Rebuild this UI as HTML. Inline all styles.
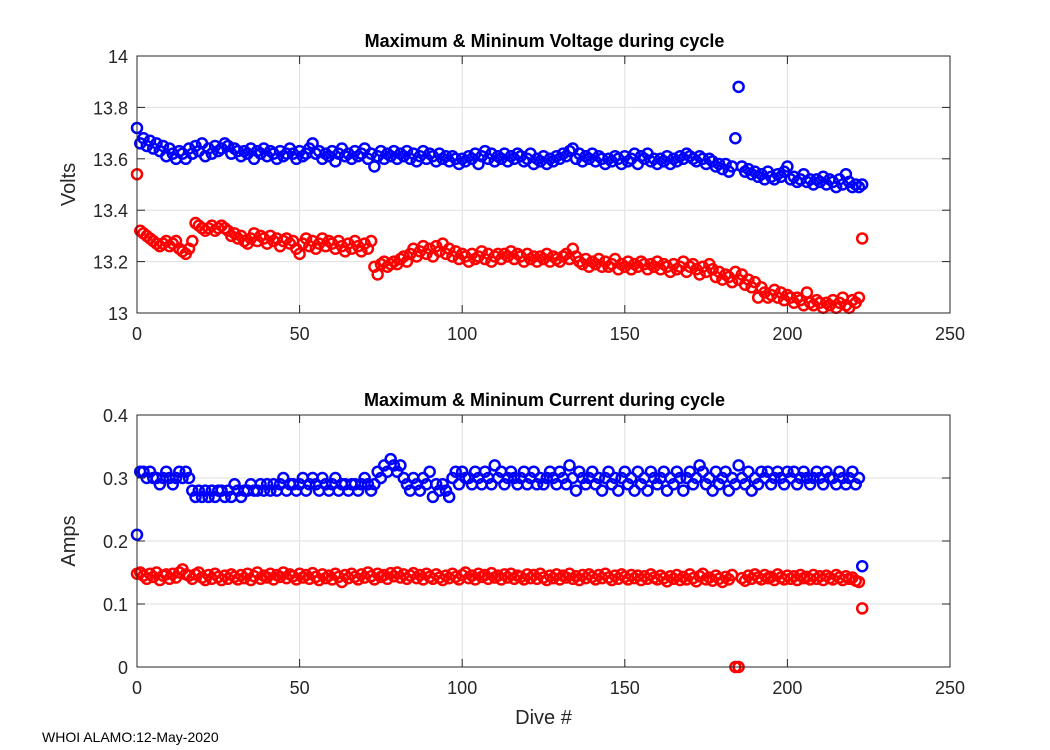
<!DOCTYPE html>
<html><head><meta charset="utf-8"><style>
html,body{margin:0;padding:0;background:#fff;}
svg{display:block;font-family:"Liberation Sans",Arial,sans-serif;}
</style></head><body>
<svg id="chart" width="1050" height="750" viewBox="0 0 1050 750">
<g id="top"></g>
<g id="bot"></g>
<text x="42" y="742" font-size="14">WHOI ALAMO:12-May-2020</text>
</svg>
<script>
const vMax=[13.72,13.66,13.68,13.65,13.67,13.64,13.66,13.63,13.65,13.61,13.64,13.62,13.60,13.63,13.62,13.60,
13.64,13.62,13.65,13.63,13.66,13.61,13.64,13.62,13.65,13.63,13.64,13.66,13.65,13.62,13.64,13.63,
13.61,13.63,13.62,13.64,13.60,13.63,13.62,13.64,13.61,13.63,13.62,13.60,13.63,13.61,13.62,13.64,
13.62,13.60,13.63,13.61,13.62,13.64,13.66,13.62,13.63,13.60,13.62,13.61,13.63,13.59,13.62,13.64,
13.61,13.62,13.60,13.63,13.61,13.62,13.64,13.60,13.62,13.57,13.61,13.63,13.60,13.62,13.61,13.63,
13.60,13.62,13.61,13.63,13.60,13.62,13.59,13.61,13.63,13.60,13.62,13.61,13.59,13.62,13.60,13.61,
13.59,13.61,13.60,13.58,13.60,13.59,13.61,13.60,13.62,13.58,13.61,13.63,13.60,13.62,13.59,13.61,
13.60,13.62,13.59,13.61,13.60,13.62,13.61,13.59,13.60,13.62,13.58,13.60,13.59,13.61,13.58,13.60,
13.59,13.61,13.60,13.62,13.61,13.63,13.64,13.60,13.62,13.59,13.61,13.60,13.62,13.59,13.61,13.60,
13.58,13.60,13.59,13.61,13.60,13.58,13.61,13.59,13.60,13.62,13.58,13.61,13.60,13.62,13.59,13.60,
13.58,13.60,13.59,13.61,13.58,13.60,13.59,13.61,13.60,13.62,13.61,13.60,13.59,13.61,13.60,13.58,
13.60,13.59,13.57,13.58,13.56,13.58,13.55,13.57,13.68,13.88,13.57,13.55,13.56,13.54,13.55,13.53,
13.54,13.52,13.55,13.53,13.52,13.54,13.53,13.55,13.57,13.52,13.53,13.51,13.52,13.54,13.51,13.52,
13.50,13.52,13.51,13.53,13.50,13.52,13.51,13.49,13.52,13.50,13.54,13.51,13.49,13.50,13.49,13.50];
const vMin=[13.54,13.32,13.31,13.30,13.29,13.28,13.27,13.26,13.27,13.28,13.26,13.27,13.28,13.25,13.24,13.23,
13.25,13.28,13.35,13.34,13.33,13.32,13.33,13.34,13.32,13.33,13.34,13.33,13.32,13.30,13.31,13.29,
13.30,13.28,13.27,13.29,13.31,13.28,13.30,13.29,13.27,13.30,13.28,13.29,13.26,13.28,13.29,13.27,
13.28,13.25,13.23,13.27,13.29,13.26,13.28,13.25,13.27,13.29,13.26,13.28,13.27,13.25,13.28,13.26,
13.24,13.27,13.25,13.28,13.26,13.24,13.27,13.25,13.28,13.18,13.15,13.19,13.20,13.18,13.19,13.20,
13.19,13.21,13.22,13.20,13.23,13.25,13.22,13.24,13.26,13.23,13.25,13.22,13.26,13.24,13.27,13.23,
13.25,13.22,13.24,13.21,13.23,13.22,13.20,13.23,13.21,13.22,13.24,13.21,13.23,13.20,13.22,13.23,
13.21,13.23,13.22,13.24,13.21,13.23,13.22,13.20,13.23,13.21,13.22,13.20,13.22,13.21,13.23,13.20,
13.22,13.21,13.20,13.22,13.23,13.21,13.25,13.22,13.20,13.19,13.21,13.18,13.20,13.19,13.21,13.18,
13.20,13.18,13.19,13.21,13.17,13.19,13.18,13.20,13.17,13.19,13.18,13.20,13.19,13.17,13.19,13.18,
13.20,13.17,13.19,13.18,13.16,13.19,13.17,13.18,13.20,13.16,13.18,13.19,13.17,13.15,13.18,13.16,
13.19,13.17,13.14,13.16,13.13,13.15,13.14,13.12,13.16,13.13,13.15,13.11,13.13,13.10,13.12,13.06,
13.10,13.08,13.06,13.07,13.09,13.06,13.08,13.05,13.07,13.06,13.04,13.06,13.05,13.03,13.08,13.04,
13.03,13.05,13.04,13.02,13.04,13.03,13.05,13.02,13.04,13.06,13.03,13.02,13.05,13.04,13.06,13.29];
const iMax=[0.21,0.31,0.31,0.30,0.31,0.30,0.30,0.29,0.30,0.31,0.30,0.29,0.30,0.31,0.30,0.31,
0.30,0.28,0.27,0.28,0.27,0.28,0.27,0.28,0.27,0.28,0.28,0.27,0.28,0.27,0.29,0.28,
0.27,0.28,0.28,0.29,0.28,0.28,0.29,0.28,0.29,0.28,0.29,0.28,0.29,0.30,0.28,0.29,
0.29,0.28,0.29,0.30,0.28,0.29,0.30,0.29,0.28,0.30,0.29,0.28,0.29,0.30,0.28,0.29,
0.29,0.28,0.29,0.29,0.28,0.29,0.30,0.29,0.28,0.29,0.31,0.30,0.32,0.31,0.33,0.32,
0.31,0.32,0.30,0.29,0.28,0.30,0.29,0.28,0.30,0.29,0.31,0.27,0.29,0.28,0.29,0.28,
0.27,0.30,0.31,0.29,0.31,0.30,0.30,0.29,0.31,0.30,0.29,0.31,0.30,0.29,0.32,0.30,
0.31,0.29,0.30,0.31,0.30,0.29,0.30,0.31,0.29,0.30,0.31,0.29,0.30,0.29,0.30,0.31,
0.30,0.29,0.31,0.30,0.29,0.32,0.30,0.28,0.31,0.30,0.29,0.30,0.31,0.29,0.30,0.28,
0.30,0.31,0.29,0.30,0.28,0.30,0.31,0.29,0.30,0.28,0.31,0.29,0.30,0.28,0.31,0.30,
0.29,0.30,0.31,0.28,0.30,0.29,0.31,0.30,0.28,0.30,0.31,0.29,0.30,0.32,0.31,0.29,
0.30,0.28,0.31,0.29,0.30,0.31,0.28,0.30,0.29,0.32,0.30,0.29,0.31,0.28,0.30,0.29,
0.31,0.30,0.31,0.29,0.30,0.31,0.30,0.29,0.31,0.30,0.31,0.29,0.30,0.31,0.30,0.29,
0.30,0.31,0.30,0.29,0.31,0.30,0.30,0.29,0.31,0.30,0.29,0.30,0.31,0.29,0.30,0.16];
const iMin=[0.148,0.150,0.145,0.140,0.148,0.143,0.150,0.138,0.145,0.147,0.140,0.148,0.142,0.150,0.155,0.147,
0.145,0.140,0.147,0.150,0.142,0.138,0.146,0.140,0.148,0.143,0.138,0.145,0.140,0.147,0.143,0.139,
0.146,0.141,0.148,0.138,0.144,0.150,0.140,0.145,0.142,0.148,0.139,0.146,0.143,0.150,0.141,0.147,
0.144,0.139,0.148,0.142,0.146,0.140,0.149,0.143,0.138,0.147,0.141,0.145,0.139,0.148,0.143,0.135,
0.146,0.141,0.148,0.143,0.139,0.147,0.142,0.150,0.144,0.139,0.148,0.143,0.146,0.140,0.149,0.144,
0.150,0.142,0.147,0.140,0.145,0.149,0.141,0.146,0.139,0.148,0.143,0.140,0.147,0.142,0.138,0.145,
0.141,0.148,0.143,0.139,0.146,0.150,0.141,0.145,0.139,0.148,0.143,0.146,0.140,0.149,0.142,0.145,
0.139,0.147,0.142,0.148,0.140,0.145,0.143,0.139,0.147,0.141,0.146,0.140,0.148,0.142,0.138,0.145,
0.141,0.147,0.139,0.145,0.142,0.148,0.140,0.144,0.138,0.146,0.141,0.147,0.143,0.139,0.146,0.141,
0.148,0.142,0.138,0.145,0.140,0.147,0.143,0.139,0.146,0.141,0.145,0.138,0.144,0.140,0.147,0.142,
0.139,0.145,0.141,0.136,0.144,0.140,0.146,0.138,0.143,0.139,0.147,0.141,0.136,0.144,0.148,0.139,
0.142,0.137,0.145,0.140,0.135,0.143,0.139,0.146,0.000,0.000,0.141,0.137,0.145,0.140,0.147,0.142,
0.139,0.146,0.141,0.143,0.138,0.147,0.142,0.139,0.145,0.140,0.144,0.138,0.146,0.141,0.143,0.139,
0.146,0.140,0.144,0.138,0.145,0.141,0.139,0.146,0.142,0.138,0.144,0.140,0.142,0.137,0.135,0.093];
const xTicks=[0,50,100,150,200,250];
const vTicks=[13,13.2,13.4,13.6,13.8,14];
const vTickLabels=["13","13.2","13.4","13.6","13.8","14"];
const iTicks=[0,0.1,0.2,0.3,0.4];
const iTickLabels=["0","0.1","0.2","0.3","0.4"];

const NS="http://www.w3.org/2000/svg";
const X0=137,X1=950;
function sx(v){return X0+(v-0)/(250-0)*(X1-X0);}
function mk(tag,attrs,parent){const e=document.createElementNS(NS,tag);for(const k in attrs)e.setAttribute(k,attrs[k]);parent.appendChild(e);return e;}

function panel(g,top,bot,yMin,yMax,yt,ytl,title,ylabel,series,showX){
  const sy=v=>bot-(v-yMin)/(yMax-yMin)*(bot-top);
  mk('rect',{x:X0,y:top,width:X1-X0,height:bot-top,fill:'#fff'},g);
  xTicks.forEach(t=>{
    const l=mk('line',{x1:sx(t),x2:sx(t),y1:top,y2:bot,stroke:'#dfdfdf','stroke-width':1},g);
    
    
  });
  yt.forEach(t=>{
    const l=mk('line',{x1:X0,x2:X1,y1:sy(t),y2:sy(t),stroke:'#dfdfdf','stroke-width':1},g);
    
    
  });
  series.forEach(s=>{
    s.data.forEach((v,i)=>{
      const c=mk('circle',{cx:sx(i),cy:sy(v),r:5,fill:'none',stroke:s.color,'stroke-width':2.5},g);
      
      
    });
  });
  const box=mk('rect',{x:X0,y:top,width:X1-X0,height:bot-top,fill:'none',stroke:'#262626','stroke-width':1},g);
  
  
  xTicks.forEach(t=>{
    mk('line',{x1:sx(t),x2:sx(t),y1:bot,y2:bot-8,stroke:'#262626'},g);
    mk('line',{x1:sx(t),x2:sx(t),y1:top,y2:top+8,stroke:'#262626'},g);
    const tx=mk('text',{x:sx(t),y:bot+27,'font-size':18,'text-anchor':'middle',fill:'#262626'},g);
    tx.textContent=t;
    
    
  });
  yt.forEach((t,k)=>{
    mk('line',{x1:X0,x2:X0+8,y1:sy(t),y2:sy(t),stroke:'#262626'},g);
    mk('line',{x1:X1,x2:X1-8,y1:sy(t),y2:sy(t),stroke:'#262626'},g);
    const tx=mk('text',{x:X0-9,y:sy(t)+7,'font-size':18,'text-anchor':'end',fill:'#262626'},g);
    tx.textContent=ytl[k];
    
    
  });
  const ti=mk('text',{x:(X0+X1)/2+1,y:top-9,'font-size':18,'font-weight':'bold','text-anchor':'middle',fill:'#000'},g);
  ti.textContent=title;
  
  
  const yl=mk('text',{x:0,y:0,'font-size':20,'text-anchor':'middle',fill:'#262626',transform:`translate(75,${(top+bot)/2}) rotate(-90)`},g);
  yl.textContent=ylabel;
  
  
  if(showX){
    const xl=mk('text',{x:(X0+X1)/2,y:bot+57,'font-size':20,'text-anchor':'middle',fill:'#262626'},g);
    xl.textContent='Dive #';
    
    
  }
}
panel(document.getElementById('top'),56,313,13,14,vTicks,vTickLabels,'Maximum & Mininum Voltage during cycle','Volts',
 [{data:vMax,color:'#0000ff',name:'max-voltage-point'},{data:vMin,color:'#ff0000',name:'min-voltage-point'}],false);
panel(document.getElementById('bot'),415,667,0,0.4,iTicks,iTickLabels,'Maximum & Mininum Current during cycle','Amps',
 [{data:iMax,color:'#0000ff',name:'max-current-point'},{data:iMin,color:'#ff0000',name:'min-current-point'}],true);
</script>
</body></html>
